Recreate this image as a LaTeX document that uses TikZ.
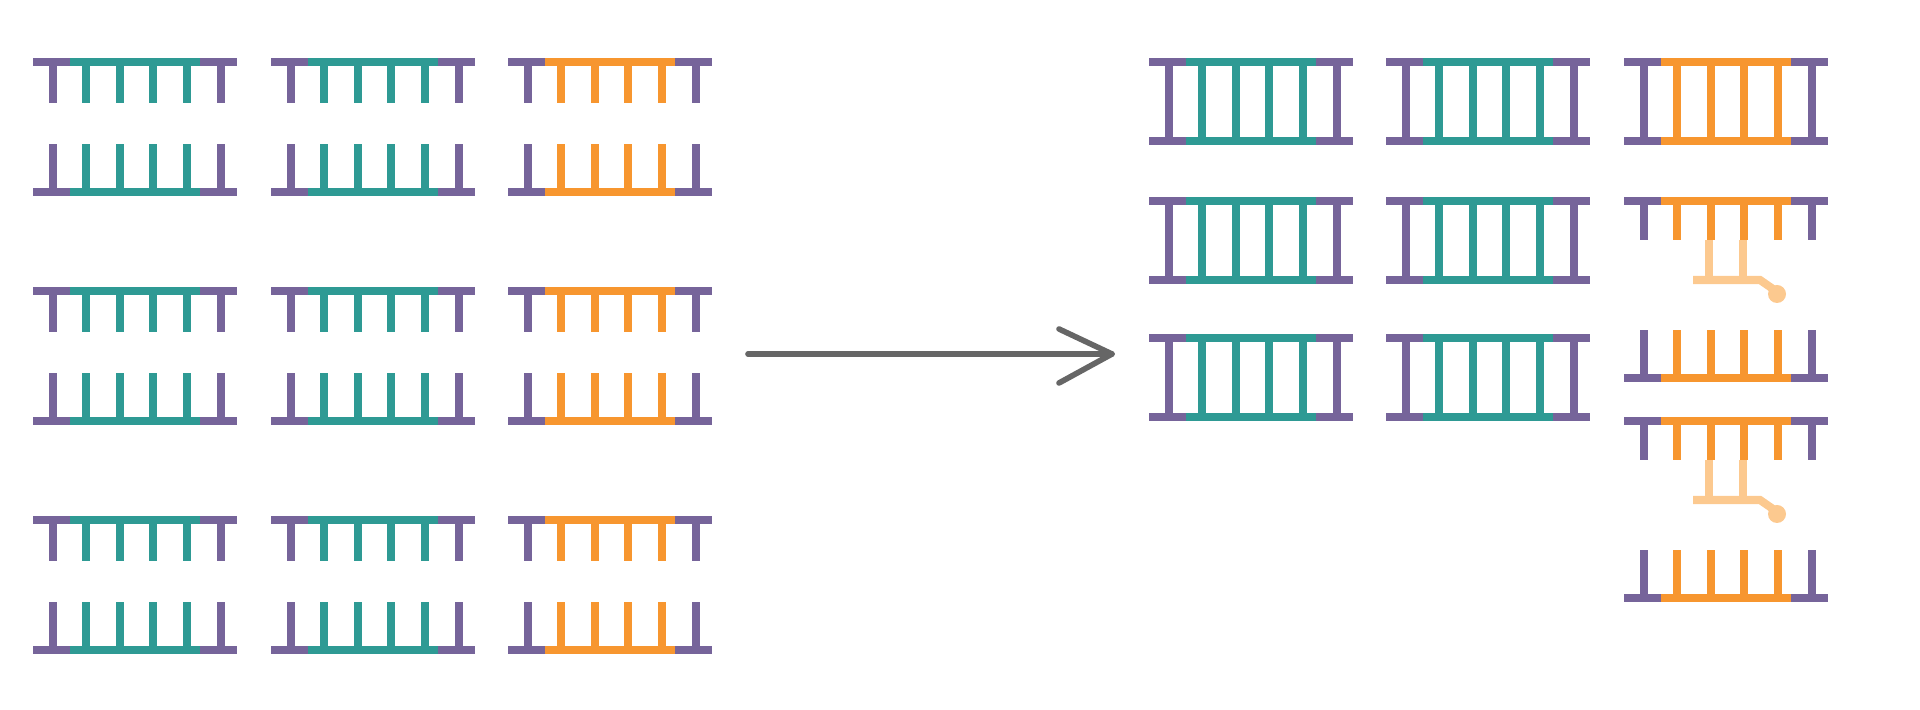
\documentclass[tikz,border=0pt]{standalone}
\usetikzlibrary{positioning}
\definecolor{bbone}{HTML}{76649A}
\definecolor{tealb}{HTML}{2E9A94}
\definecolor{orngb}{HTML}{F7962F}
\definecolor{paleb}{HTML}{FCC98F}
\tikzset{
  strandline/.style={line width=2.3pt},
  arrowline/.style={line width=1.6pt, draw=black!60, line cap=round, line join=round}
}
% one strand: x, y of backbone, base colour, tooth length (+ down, - up)
\newcommand{\dnastrand}[4]{
  \draw[strandline, bbone] (#1,#2) -- ++(37,0) (#1+167,#2) -- ++(37,0);
  \draw[strandline, #3] (#1+37,#2) -- ++(130,0);
  \draw[strandline, bbone] (#1+20,#2) -- ++(0,#4) (#1+188,#2) -- ++(0,#4);
  \foreach \t in {53,87,120,154} {
    \draw[strandline, #3] (#1+\t,#2) -- ++(0,#4);
  }
}
% two strands facing each other
\newcommand{\dnapair}[3]{
  \dnastrand{#1}{#2}{#3}{41}
  \dnastrand{#1}{#2+130}{#3}{-48}
}
% closed duplex
\newcommand{\dnaduplex}[3]{
  \dnastrand{#1}{#2}{#3}{79}
  \dnastrand{#1}{#2+79}{#3}{0}
}
% strand with a partner fragment hanging off
\newcommand{\dnafrag}[2]{
  \dnastrand{#1}{#2}{orngb}{39}
  \draw[strandline, paleb] (#1+85,#2+39) -- ++(0,40) (#1+119,#2+39) -- ++(0,40);
  \draw[strandline, paleb] (#1+69,#2+79) -- (#1+136,#2+79) -- (#1+149,#2+88);
  \fill[paleb] (#1+153,#2+93) circle (9);
}
\begin{document}
\begin{tikzpicture}[x=0.01cm, y=-0.01cm]
\useasboundingbox (0,0) rectangle (1920,710);

% left: separated strands
\foreach \y in {62,291,520} {
  \dnapair{33}{\y}{tealb}
  \dnapair{271}{\y}{tealb}
  \dnapair{508}{\y}{orngb}
}

% arrow
\coordinate (from) at (748,354);
\coordinate (to) at (1112,354);
\draw[arrowline] (from) -- (to);
\draw[arrowline] (1059,329) -- (to) -- (1059,383);

% right: re-annealed duplexes
\foreach \y in {62,201,338} {
  \dnaduplex{1149}{\y}{tealb}
  \dnaduplex{1386}{\y}{tealb}
}
\dnaduplex{1624}{62}{orngb}
\dnafrag{1624}{201}
\dnastrand{1624}{378}{orngb}{-48}
\dnafrag{1624}{421}
\dnastrand{1624}{598}{orngb}{-48}

\end{tikzpicture}
\end{document}
